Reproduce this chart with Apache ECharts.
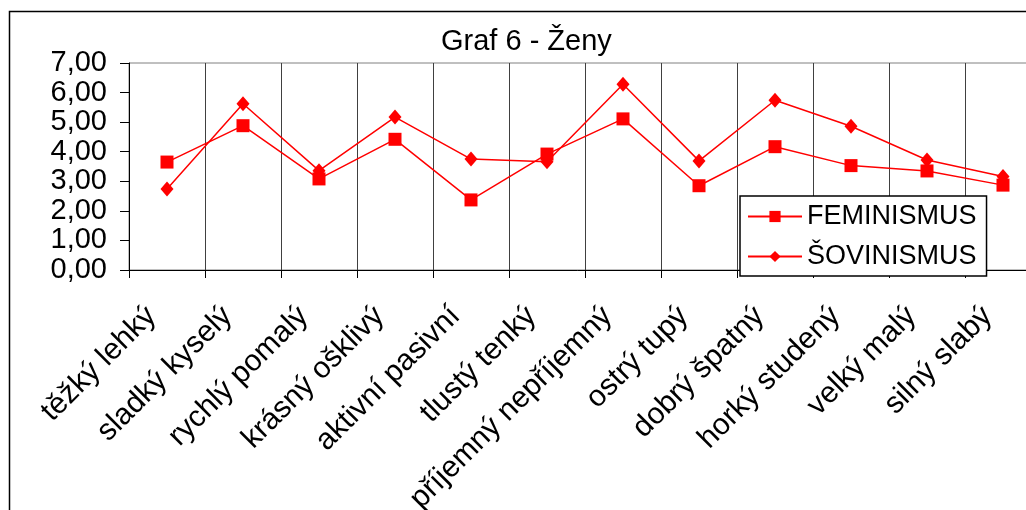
<!DOCTYPE html>
<html>
<head>
<meta charset="utf-8">
<script src="https://cdn.jsdelivr.net/npm/echarts@6/dist/echarts.min.js"></script>
<style>
  html, body { margin: 0; padding: 0; background: #fff; }
  #chart { width: 1026px; height: 510px; }
</style>
</head>
<body>
<div id="chart"></div>
<script>
// kategorie (dvojice přídavných jmen)
const categories = [
  'těžký lehký', 'sladký kyselý', 'rychlý pomalý', 'krásný ošklivý',
  'aktivní pasivní', 'tlustý tenký', 'příjemný nepříjemný', 'ostrý tupý',
  'dobrý špatný', 'horký studený', 'velký malý', 'silný slabý'
]
const feminismus = [3.65, 4.88, 3.08, 4.42, 2.37, 3.92, 5.11, 2.85, 4.17, 3.53, 3.35, 2.87]
const sovinismus = [2.74, 5.62, 3.36, 5.17, 3.75, 3.66, 6.28, 3.69, 5.74, 4.86, 3.72, 3.16]
const seriesNames = ['FEMINISMUS', 'ŠOVINISMUS']
const titleText = 'Graf 6 - Ženy'

const font = 'Liberation Sans, Arial, sans-serif'
const red = '#ff0000'

const chart = echarts.init(document.getElementById('chart'))

const op = {
  animation: false,
  backgroundColor: '#fff',
  textStyle: { fontFamily: font },
  title: {
    text: titleText,
    left: 441,
    top: 27,
    padding: 0,
    textStyle: { fontFamily: font, fontSize: 29, fontWeight: 'normal', color: '#000' }
  },
  graphic: [
    {
      type: 'rect',
      shape: { x: 9.5, y: 11.5, width: 1100, height: 600 },
      style: { fill: null, stroke: '#000', lineWidth: 1.5 },
      silent: true,
      z: -1
    }
  ],
  grid: {
    left: 129,
    top: 63,
    width: 912,
    bottom: 240,
    outerBoundsMode: 'none',
    show: true,
    borderColor: '#808080',
    borderWidth: 1
  },
  legend: {
    orient: 'vertical',
    left: 740,
    top: 196,
    padding: [7, 10, 6, 7],
    itemGap: 13,
    itemWidth: 54,
    itemHeight: 14,
    borderColor: '#000',
    borderWidth: 1.5,
    backgroundColor: '#fff',
    textStyle: { fontFamily: font, fontSize: 27, color: '#000' },
    data: seriesNames
  },
  xAxis: {
    type: 'category',
    data: categories,
    boundaryGap: true,
    axisLine: { lineStyle: { color: '#000', width: 1 } },
    axisTick: { show: true, length: 8, lineStyle: { color: '#000' } },
    splitLine: { show: true, lineStyle: { color: '#404040', width: 1 } },
    axisLabel: {
      interval: 0,
      rotate: 45,
      margin: 26,
      padding: [0, 22, 0, 0],
      fontFamily: font,
      fontSize: 30,
      color: '#000'
    }
  },
  yAxis: {
    type: 'value',
    min: 0,
    max: 7,
    interval: 1,
    axisLine: { show: true, lineStyle: { color: '#000', width: 1 } },
    axisTick: { show: true, length: 9, lineStyle: { color: '#000' } },
    splitLine: { show: false },
    axisLabel: {
      margin: 22,
      fontFamily: font,
      fontSize: 29,
      color: '#000',
      formatter: v => v.toFixed(2).replace('.', ',')
    }
  },
  series: [
    {
      name: seriesNames[0],
      type: 'line',
      data: feminismus,
      symbol: 'rect',
      symbolSize: 13,
      lineStyle: { color: red, width: 1.5 },
      itemStyle: { color: red }
    },
    {
      name: seriesNames[1],
      type: 'line',
      data: sovinismus,
      symbol: 'diamond',
      symbolSize: [13, 15],
      lineStyle: { color: red, width: 1.5 },
      itemStyle: { color: red }
    }
  ]
}

chart.setOption(op)
</script>
</body>
</html>
